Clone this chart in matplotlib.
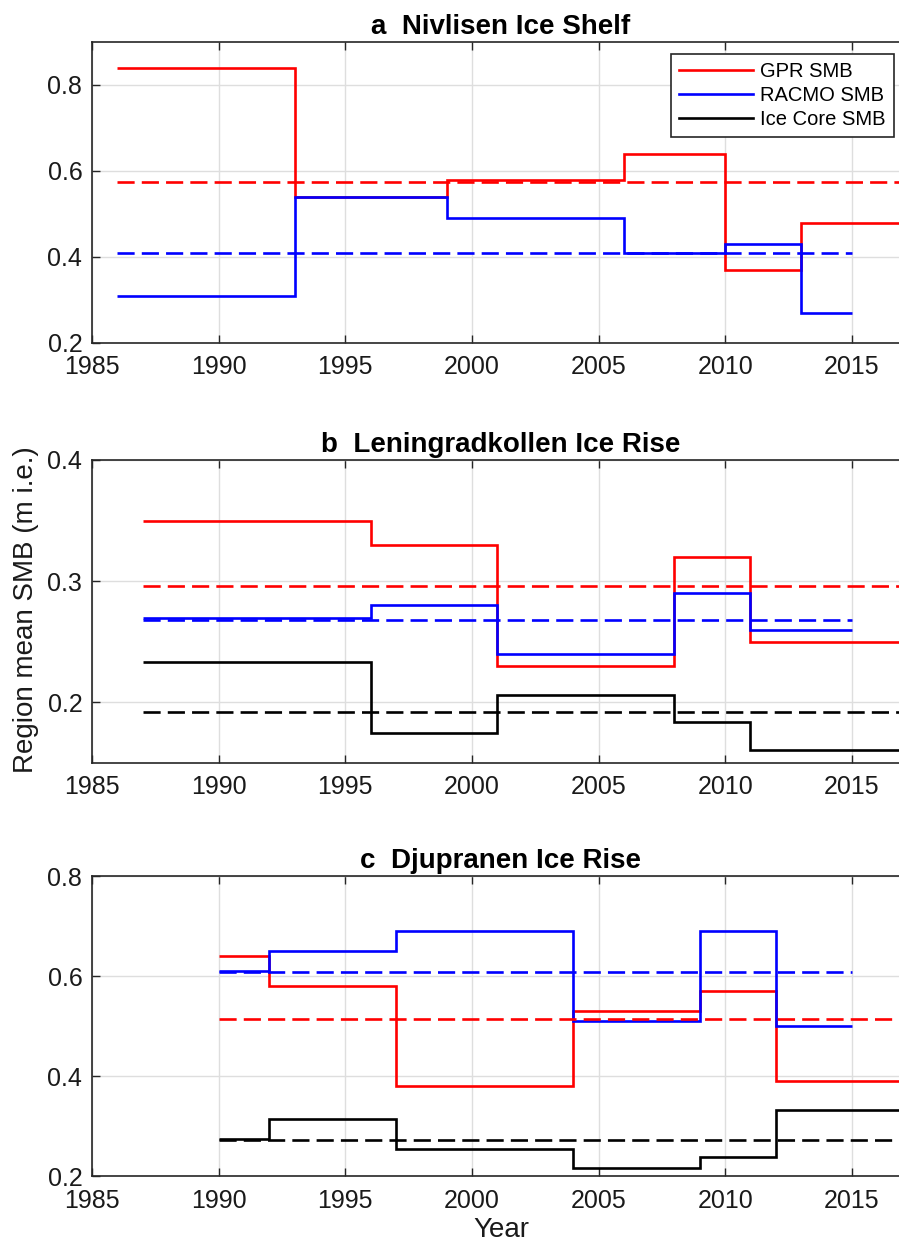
import matplotlib
matplotlib.use("Agg")
import matplotlib.pyplot as plt

plt.rcParams['font.family'] = ['Liberation Sans', 'DejaVu Sans']

# ---- data ----
# a  Nivlisen Ice Shelf
a_gpr_edges = [1986, 1993, 1999, 2006, 2010, 2013, 2018]
a_gpr_vals = [0.84, 0.54, 0.58, 0.64, 0.37, 0.48]
a_racmo_edges = [1986, 1993, 1999, 2006, 2010, 2013, 2015]
a_racmo_vals = [0.31, 0.54, 0.49, 0.41, 0.43, 0.27]
a_gpr_mean = 0.575
a_racmo_mean = 0.409

# b  Leningradkollen Ice Rise
b_gpr_edges = [1987, 1996, 2001, 2008, 2011, 2018]
b_gpr_vals = [0.35, 0.33, 0.23, 0.32, 0.25]
b_racmo_edges = [1987, 1996, 2001, 2008, 2011, 2015]
b_racmo_vals = [0.27, 0.28, 0.24, 0.29, 0.26]
b_core_edges = [1987, 1996, 2001, 2008, 2011, 2018]
b_core_vals = [0.233, 0.175, 0.206, 0.184, 0.161]
b_gpr_mean = 0.296
b_racmo_mean = 0.268
b_core_mean = 0.192

# c  Djupranen Ice Rise
c_gpr_edges = [1990, 1992, 1997, 2004, 2009, 2012, 2018]
c_gpr_vals = [0.64, 0.58, 0.38, 0.53, 0.57, 0.39]
c_racmo_edges = [1990, 1992, 1997, 2004, 2009, 2012, 2015]
c_racmo_vals = [0.61, 0.65, 0.69, 0.51, 0.69, 0.50]
c_core_edges = [1990, 1992, 1997, 2004, 2009, 2012, 2018]
c_core_vals = [0.275, 0.315, 0.255, 0.217, 0.239, 0.332]
c_gpr_mean = 0.515
c_racmo_mean = 0.609
c_core_mean = 0.273

xticks = [1985, 1990, 1995, 2000, 2005, 2010, 2015]

RED = '#ff0000'
BLUE = '#0000ff'
BLACK = '#000000'
AXC = '#262626'
TXT = '#1a1a1a'
LW = 1.9

fig = plt.figure(figsize=(8.99, 12.47), dpi=100)
W, H = 899, 1247
left, right = 92, 910


def make_ax(top, bottom):
    return fig.add_axes([left / W, 1 - bottom / H, (right - left) / W, (bottom - top) / H])


def style(ax, ylim, yticks, title):
    ax.set_xlim(1985, 2017.3)
    ax.set_ylim(*ylim)
    ax.set_xticks(xticks)
    ax.set_yticks(yticks)
    ax.set_yticklabels([f"{t:g}" for t in yticks])
    ax.grid(True, color='#dedede', lw=1.0)
    ax.set_axisbelow(True)
    ax.tick_params(direction='in', length=6, width=1, colors=AXC, labelsize=18,
                   top=True, right=True, labelcolor=TXT)
    ax.tick_params(axis='x', pad=9)
    ax.tick_params(axis='y', pad=7)
    for s in ax.spines.values():
        s.set_color(AXC)
        s.set_linewidth(1.2)
    ax.set_title(title, fontsize=20, fontweight='bold', pad=6)


def step(ax, edges, vals, color):
    ax.stairs(vals, edges, baseline=None, color=color, lw=LW)


def mean(ax, x0, x1, val, color):
    ax.plot([x0, x1], [val, val], ls=(0, (6.5, 2.7)), color=color, lw=LW)


# panel a
ax1 = make_ax(42, 343)
mean(ax1, 1986, 2018, a_gpr_mean, RED)
mean(ax1, 1986, 2015, a_racmo_mean, BLUE)
step(ax1, a_gpr_edges, a_gpr_vals, RED)
step(ax1, a_racmo_edges, a_racmo_vals, BLUE)
style(ax1, (0.2, 0.9), [0.2, 0.4, 0.6, 0.8], 'a  Nivlisen Ice Shelf')
h = [plt.Line2D([], [], color=c, lw=LW) for c in (RED, BLUE, BLACK)]
leg = ax1.legend(h, ['GPR SMB', 'RACMO SMB', 'Ice Core SMB'], loc='upper right',
                 bbox_to_anchor=(0.9804, 0.960), borderaxespad=0, fontsize=14.5,
                 fancybox=False, framealpha=1, edgecolor=AXC, handlelength=3.7,
                 handletextpad=0.35, labelspacing=0.25, borderpad=0.4)
leg.get_frame().set_linewidth(1.2)

# panel b
ax2 = make_ax(460, 763)
mean(ax2, 1987, 2018, b_gpr_mean, RED)
mean(ax2, 1987, 2015, b_racmo_mean, BLUE)
mean(ax2, 1987, 2018, b_core_mean, BLACK)
step(ax2, b_gpr_edges, b_gpr_vals, RED)
step(ax2, b_racmo_edges, b_racmo_vals, BLUE)
step(ax2, b_core_edges, b_core_vals, BLACK)
style(ax2, (0.15, 0.4), [0.2, 0.3, 0.4], 'b  Leningradkollen Ice Rise')

# panel c
ax3 = make_ax(876, 1176)
mean(ax3, 1990, 2018, c_gpr_mean, RED)
mean(ax3, 1990, 2015, c_racmo_mean, BLUE)
mean(ax3, 1990, 2018, c_core_mean, BLACK)
step(ax3, c_gpr_edges, c_gpr_vals, RED)
step(ax3, c_racmo_edges, c_racmo_vals, BLUE)
step(ax3, c_core_edges, c_core_vals, BLACK)
style(ax3, (0.2, 0.8), [0.2, 0.4, 0.6, 0.8], 'c  Djupranen Ice Rise')
ax3.set_xlabel('Year', fontsize=20, color=TXT, labelpad=3)

fig.text(26 / W, 1 - 610 / H, 'Region mean SMB (m i.e.)', rotation=90,
         ha='center', va='center', fontsize=20, color=TXT)

fig.savefig('out.png', dpi=100)
